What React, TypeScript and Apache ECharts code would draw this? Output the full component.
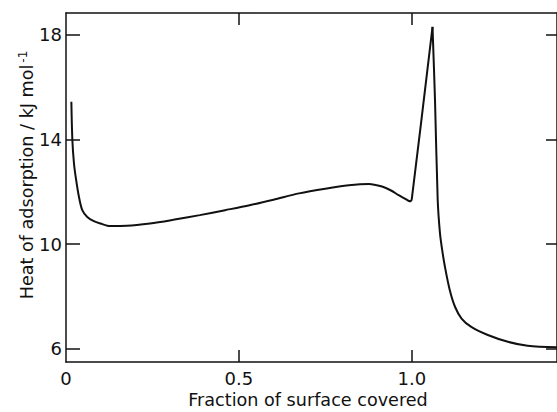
import React, { useEffect, useRef } from "react";
import * as echarts from "echarts";

const coverage = [
  0.0155, 0.0184, 0.023, 0.0279, 0.0374, 0.0471, 0.0615, 0.0805, 0.0997, 0.128,
  0.176, 0.243, 0.31, 0.387, 0.46, 0.531, 0.6, 0.674, 0.75, 0.818, 0.876, 0.914,
  0.94, 0.962, 0.98, 0.99, 0.997, 1.0, 1.06, 1.0672, 1.075, 1.0816, 1.088, 1.096,
  1.11, 1.125, 1.144, 1.172, 1.22, 1.278, 1.335, 1.42,
];
const heat = [
  15.44, 13.98, 13.09, 12.58, 11.81, 11.3, 11.04, 10.88, 10.79, 10.69,
  10.7, 10.79, 10.93, 11.11, 11.3, 11.49, 11.7, 11.94, 12.12, 12.25, 12.3, 12.2,
  12.05, 11.87, 11.74, 11.66, 11.64, 11.72, 18.3, 15.5, 11.68, 10.41, 9.77, 9.13,
  8.24, 7.61, 7.16, 6.84, 6.53, 6.27, 6.12, 6.06,
];
const peakIndex = 28;
const yTickValues = [6, 10, 14, 18];
const xLabelValues = [0, 0.5, 1.0];
const xTickValues = [0.5, 1.0];
const xTitle = "Fraction of surface covered";
const yTitle = "Heat of adsorption / kJ mol";
const yTitleSup = "-1";

export default function App() {
  const ref = useRef<HTMLDivElement>(null);
  useEffect(() => {
    const chart = echarts.init(ref.current!, null, { renderer: "svg" });
    const ink = "#111";
    const font = "DejaVu Sans";
    const line = { color: ink, width: 1.5 };
    const fmt = (v: number) => (v === 0 ? "0" : v.toFixed(1));
    const pts = coverage.map((x, i) => [x, heat[i]]);
    const seriesBase = {
      type: "line",
      xAxisIndex: 0,
      yAxisIndex: 0,
      showSymbol: false,
      smooth: 0.3,
      lineStyle: { color: ink, width: 2 },
      itemStyle: { color: ink },
    };
    chart.setOption({
      animation: false,
      grid: { left: 66, top: 13, right: -3, bottom: 50 },
      xAxis: [
        {
          type: "value",
          position: "bottom",
          min: 0,
          max: 1.42,
          axisLine: { show: true, onZero: false, lineStyle: line },
          axisTick: { show: true, inside: true, length: 12, customValues: xTickValues, lineStyle: line },
          axisLabel: { customValues: xLabelValues, formatter: fmt, margin: 7, color: ink, fontFamily: font, fontSize: 18 },
          splitLine: { show: false },
        },
        {
          type: "value",
          position: "top",
          min: 0,
          max: 1.42,
          axisLine: { show: true, onZero: false, lineStyle: line },
          axisTick: { show: true, inside: true, length: 12, customValues: xTickValues, lineStyle: line },
          axisLabel: { show: false },
          splitLine: { show: false },
        },
      ],
      yAxis: [
        {
          type: "value",
          position: "left",
          min: 5.5,
          max: 18.83,
          axisLine: { show: true, onZero: false, lineStyle: line },
          axisTick: { show: true, inside: true, length: 14, customValues: yTickValues, lineStyle: line },
          axisLabel: { customValues: yTickValues, margin: 4, color: ink, fontFamily: font, fontSize: 18 },
          splitLine: { show: false },
        },
        {
          type: "value",
          position: "right",
          min: 5.5,
          max: 18.83,
          axisLine: { show: true, onZero: false, lineStyle: line },
          axisTick: { show: true, inside: true, length: 11, customValues: yTickValues, lineStyle: line },
          axisLabel: { show: false },
          splitLine: { show: false },
        },
      ],
      series: [
        { ...seriesBase, data: pts.slice(0, peakIndex + 1) },
        { ...seriesBase, data: pts.slice(peakIndex) },
      ],
      graphic: [
        {
          type: "text",
          x: 308,
          y: 400,
          style: {
            text: xTitle,
            fill: ink,
            font: `17.6px "${font}"`,
            textAlign: "center",
            textVerticalAlign: "middle",
          },
        },
        {
          type: "text",
          x: 27,
          y: 175,
          rotation: Math.PI / 2,
          style: {
            text: `{a|${yTitle}}{b|${yTitleSup}}`,
            fill: ink,
            textAlign: "center",
            textVerticalAlign: "middle",
            rich: {
              a: { fontSize: 17.6, fontFamily: font, fill: ink },
              b: { fontSize: 12, fontFamily: font, fill: ink, verticalAlign: "top", padding: [0, 0, 8, 2] },
            },
          },
        },
      ],
    });
    return () => chart.dispose();
  }, []);
  return (
    <div
      ref={ref}
      style={{ position: "fixed", left: 0, top: 0, width: 557, height: 412, background: "#fff" }}
    />
  );
}
